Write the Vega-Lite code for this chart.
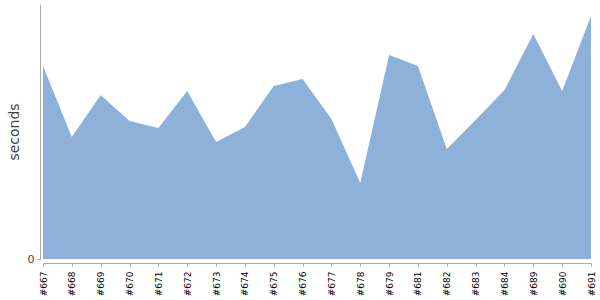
{
  "$schema": "https://vega.github.io/schema/vega-lite/v6.json",
  "autosize": "none",
  "width": 548,
  "height": 255,
  "padding": {"left": 43, "top": 4, "right": 9, "bottom": 41},
  "background": "white",
  "config": {"view": {"stroke": null}, "font": "DejaVu Sans"},
  "data": {
    "values": [
      {"build": "#667", "seconds": 193},
      {"build": "#668", "seconds": 122},
      {"build": "#669", "seconds": 164},
      {"build": "#670", "seconds": 138},
      {"build": "#671", "seconds": 131},
      {"build": "#672", "seconds": 168},
      {"build": "#673", "seconds": 117},
      {"build": "#674", "seconds": 132},
      {"build": "#675", "seconds": 173},
      {"build": "#676", "seconds": 180},
      {"build": "#677", "seconds": 140},
      {"build": "#678", "seconds": 76},
      {"build": "#679", "seconds": 204},
      {"build": "#681", "seconds": 193},
      {"build": "#682", "seconds": 110},
      {"build": "#683", "seconds": 139},
      {"build": "#684", "seconds": 169},
      {"build": "#689", "seconds": 225},
      {"build": "#690", "seconds": 168},
      {"build": "#691", "seconds": 243}
    ]
  },
  "mark": {"type": "area", "color": "#8eb1da", "opacity": 1},
  "encoding": {
    "x": {
      "field": "build",
      "type": "ordinal",
      "sort": null,
      "scale": {"type": "point", "padding": 0},
      "axis": {
        "title": null,
        "offset": 4,
        "labelAngle": -90,
        "labelFontSize": 9,
        "labelColor": "#000",
        "labelPadding": 5,
        "labelOverlap": false,
        "tickSize": 3,
        "tickColor": "#aaa",
        "domainColor": "#aaa",
        "grid": false
      }
    },
    "y": {
      "field": "seconds",
      "type": "quantitative",
      "scale": {"domain": [0, 255], "nice": false},
      "axis": {
        "title": "seconds",
        "titleFontSize": 14,
        "titleFontWeight": "normal",
        "titleColor": "#444",
        "titlePadding": 6,
        "values": [0],
        "offset": 3,
        "tickSize": 3,
        "tickColor": "#aaa",
        "domainColor": "#aaa",
        "labelFontSize": 11,
        "labelColor": "#444",
        "labelPadding": 3,
        "grid": false
      }
    }
  }
}
